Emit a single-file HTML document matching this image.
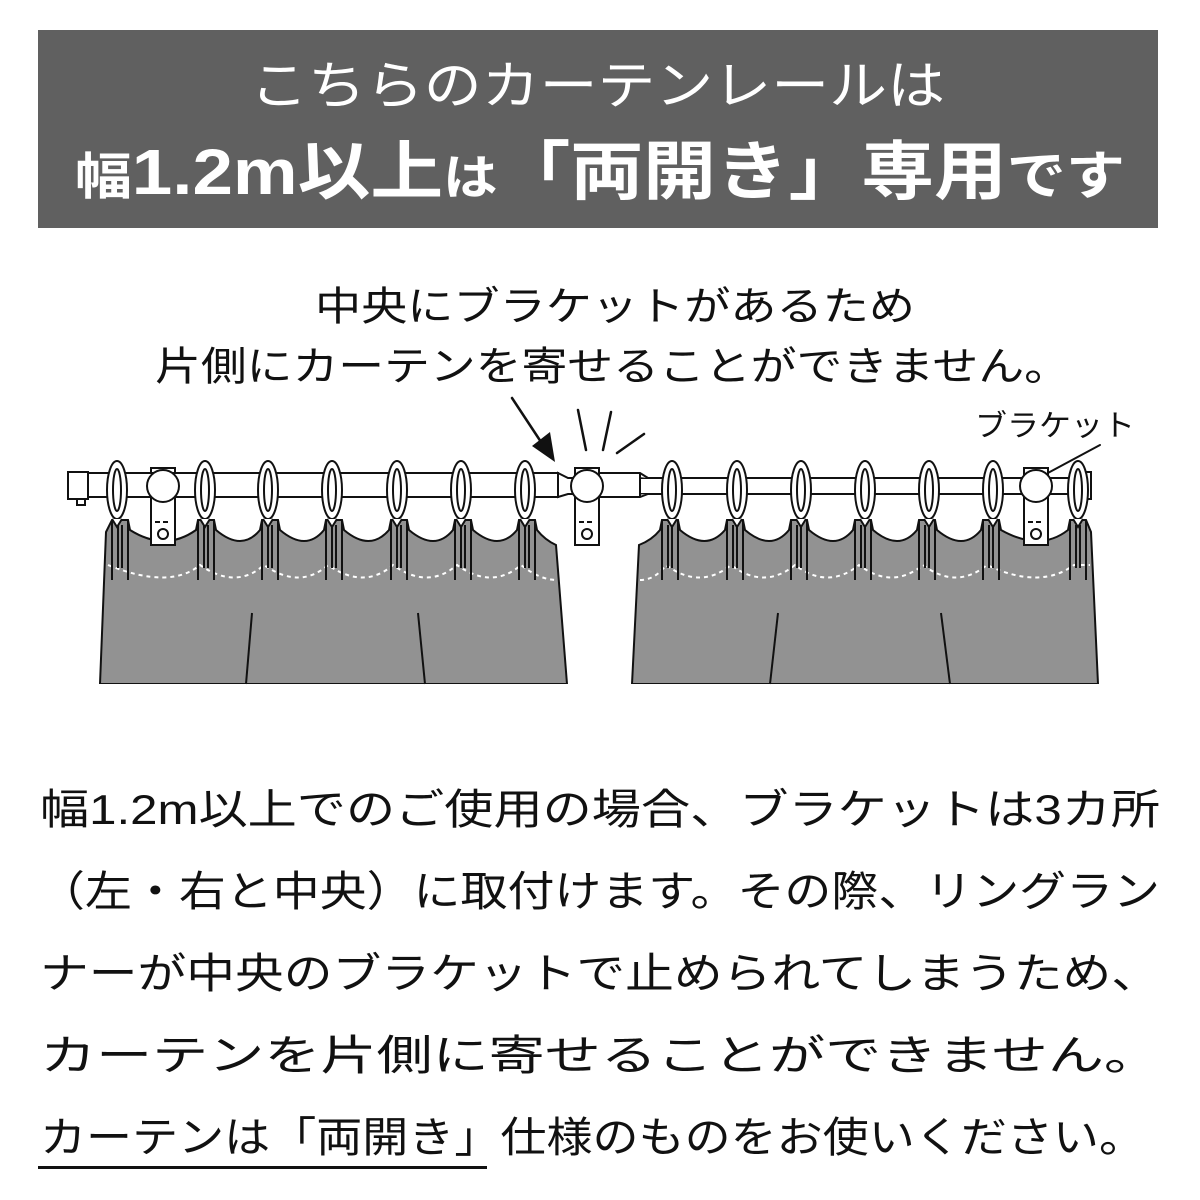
<!DOCTYPE html>
<html><head><meta charset="utf-8"><style>
html,body{margin:0;padding:0;background:#fff;width:1200px;height:1200px;overflow:hidden}
svg{display:block}
text{font-family:"Liberation Sans","Noto Sans CJK JP",sans-serif}
</style></head><body>
<svg width="1200" height="1200" viewBox="0 0 1200 1200" xmlns="http://www.w3.org/2000/svg">
<defs>
<g id="pl"><line x1="-8" y1="520" x2="-8" y2="580"/><line x1="8" y1="520" x2="8" y2="580"/><line x1="-2" y1="525" x2="-2" y2="568"/><line x1="2" y1="525" x2="2" y2="568"/></g>
<g id="br"><rect x="-12" y="468" width="24" height="77" fill="#fff" stroke="#111" stroke-width="2"/><line x1="-8" y1="522" x2="8" y2="522" stroke="#111" stroke-width="2" stroke-dasharray="5,3"/><circle cx="0" cy="534" r="5" fill="#fff" stroke="#111" stroke-width="2"/></g>
<g id="ring"><ellipse cx="0" cy="490" rx="10" ry="29" fill="#fff" stroke="#111" stroke-width="2"/><ellipse cx="0" cy="490" rx="4" ry="21" fill="none" stroke="#111" stroke-width="2"/><path d="M-5,519 L0,527 L5,519" fill="#fff" stroke="#111" stroke-width="2"/></g>
</defs>
<rect x="38" y="30" width="1120" height="198" fill="#606060"/>
<text x="250" y="104" font-size="52" fill="#fff" textLength="695" lengthAdjust="spacingAndGlyphs">こちらのカーテンレールは</text>
<text x="75" y="194" fill="#fff" font-weight="bold" textLength="1050" lengthAdjust="spacingAndGlyphs"><tspan font-size="50">幅</tspan><tspan font-size="64">1.2m以上</tspan><tspan font-size="48">は</tspan><tspan font-size="64">「両開き」専用</tspan><tspan font-size="52">です</tspan></text>

<text x="315" y="320" font-size="40" fill="#111" textLength="600" lengthAdjust="spacingAndGlyphs">中央にブラケットがあるため</text>
<text x="155" y="380" font-size="40" fill="#111" textLength="915" lengthAdjust="spacingAndGlyphs">片側にカーテンを寄せることができません。</text>
<text x="975" y="436" font-size="30" fill="#111" textLength="160" lengthAdjust="spacingAndGlyphs">ブラケット</text>

<g stroke="#111" stroke-width="2.5" fill="none" stroke-linecap="round">
<line x1="512" y1="398" x2="545" y2="448"/>
<line x1="578" y1="410" x2="586" y2="450"/>
<line x1="611" y1="412" x2="603" y2="450"/>
<line x1="644" y1="434" x2="617" y2="453"/>
<line x1="1100" y1="445" x2="1046" y2="474" stroke-width="2"/>
</g>
<polygon points="555,462 532,446 550,432" fill="#111"/>

<g stroke="#111" stroke-width="2" fill="#929292">
<path d="M100,684 L106,532 L112,520 L128,520 L130,530 Q165,552 196,530 L198,520 L214,520 L216,530 Q242,552 260,530 L262,520 L278,520 L280,530 Q306,552 324,530 L326,520 L342,520 L344,530 Q370,552 389,530 L391,520 L407,520 L409,530 Q435,552 453,530 L455,520 L471,520 L473,530 Q499,552 517,530 L519,520 L535,520 L537,530 Q545,540 556,545 L567,684 Z"/>
<path d="M632,684 L639,545 Q652,540 660,530 L662,520 L678,520 L680,530 Q706,552 725,530 L727,520 L743,520 L745,530 Q771,552 789,530 L791,520 L807,520 L809,530 Q835,552 853,530 L855,520 L871,520 L873,530 Q899,552 917,530 L919,520 L935,520 L937,530 Q963,552 981,530 L983,520 L999,520 L1001,530 Q1040,552 1068,530 L1070,520 L1086,520 L1091,532 L1098,684 Z"/>
</g>
<rect x="95" y="684" width="1010" height="6" fill="#fff"/>
<g stroke="#fff" stroke-width="2" fill="none" stroke-dasharray="4,4">
<path d="M108,565 Q170,590 200,565 Q236,590 264,565 Q300,590 328,565 Q364,590 393,565 Q428,590 457,565 Q492,590 521,565 Q540,580 557,580"/>
<path d="M640,580 Q655,580 666,565 Q700,590 731,565 Q764,590 795,565 Q828,590 859,565 Q892,590 923,565 Q956,590 987,565 Q1040,590 1074,565 L1090,565"/>
</g>
<g stroke="#111" stroke-width="2" fill="none">
<line x1="252" y1="613" x2="246" y2="684"/><line x1="418" y1="613" x2="425" y2="684"/>
<line x1="778" y1="613" x2="770" y2="684"/><line x1="941" y1="613" x2="950" y2="684"/>
</g>
<g stroke="#111" stroke-width="2">
<use href="#pl" x="120"/><use href="#pl" x="206"/><use href="#pl" x="270"/><use href="#pl" x="334"/><use href="#pl" x="399"/><use href="#pl" x="463"/><use href="#pl" x="527"/>
<use href="#pl" x="670"/><use href="#pl" x="735"/><use href="#pl" x="799"/><use href="#pl" x="863"/><use href="#pl" x="927"/><use href="#pl" x="991"/><use href="#pl" x="1078"/>
</g>

<use href="#br" x="163"/><use href="#br" x="587"/><use href="#br" x="1036"/>

<g stroke="#111" stroke-width="2" fill="#fff">
<rect x="86" y="473" width="472" height="24"/>
<path d="M558,473 L568,478 L1072,478 L1072,494 L568,494 L558,497 Z"/>
<rect x="600" y="473" width="40" height="24" stroke="none"/>
<path d="M600,473 L640,473 L648,478 M600,497 L640,497 L648,494 M640,473 L640,497"/>
<rect x="68" y="472" width="20" height="27"/><rect x="77" y="499" width="8" height="6"/>
<rect x="1071" y="472" width="20" height="27"/><rect x="1072" y="499" width="8" height="6"/>
</g>
<g stroke="#111" stroke-width="2" fill="#fff">
<circle cx="163" cy="486" r="16"/><circle cx="587" cy="486" r="16"/><circle cx="1036" cy="486" r="16"/>
</g>
<use href="#ring" x="117"/><use href="#ring" x="205"/><use href="#ring" x="268"/><use href="#ring" x="332"/><use href="#ring" x="397"/><use href="#ring" x="461"/><use href="#ring" x="525"/>
<use href="#ring" x="672"/><use href="#ring" x="737"/><use href="#ring" x="801"/><use href="#ring" x="865"/><use href="#ring" x="929"/><use href="#ring" x="993"/><use href="#ring" x="1078"/>

<g font-size="42" fill="#111">
<text x="40" y="824" textLength="1120" lengthAdjust="spacingAndGlyphs">幅1.2m以上でのご使用の場合、ブラケットは3カ所</text>
<text x="38" y="906" textLength="1122" lengthAdjust="spacingAndGlyphs">（左・右と中央）に取付けます。その際、リングラン</text>
<text x="40" y="988" textLength="1120" lengthAdjust="spacingAndGlyphs">ナーが中央のブラケットで止められてしまうため、</text>
<text x="40" y="1070" textLength="1120" lengthAdjust="spacingAndGlyphs">カーテンを片側に寄せることができません。</text>
<text x="40" y="1152" textLength="1105" lengthAdjust="spacingAndGlyphs">カーテンは「両開き」仕様のものをお使いください。</text>
</g>
<rect x="38" y="1166" width="449" height="3" fill="#111"/>
</svg>
</body></html>
